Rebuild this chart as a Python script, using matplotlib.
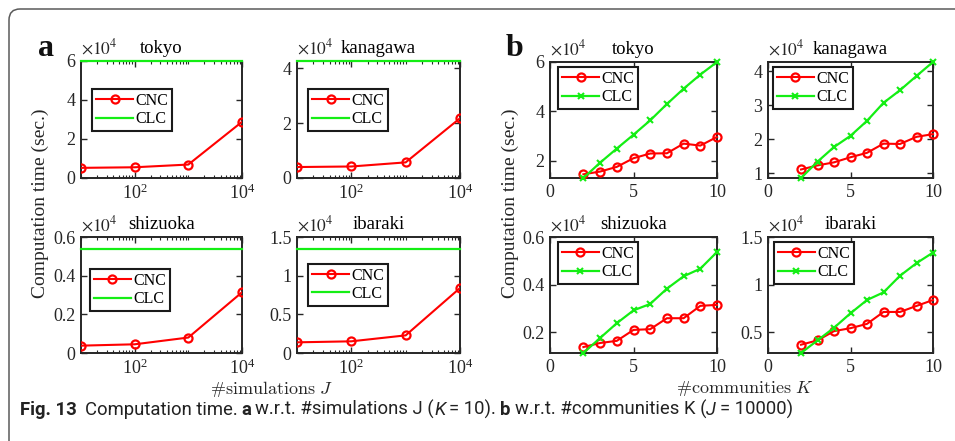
import matplotlib
matplotlib.use("Agg")
import matplotlib.pyplot as plt
from matplotlib.patches import FancyBboxPatch
from matplotlib.ticker import FixedLocator, LogLocator, NullFormatter, FuncFormatter, LogFormatterMathtext

plt.rcParams["font.family"] = ["Liberation Serif", "DejaVu Serif"]
plt.rcParams["mathtext.fontset"] = "stix"

# ---------------------------------------------------------------- data
# computation time in units of 1e4 seconds
regions = ["tokyo", "kanagawa", "shizuoka", "ibaraki"]

# (a) vs number of simulations J, with K = 10
sims_J = [10, 100, 1000, 10000]
cnc_J_tokyo = [0.52, 0.55, 0.69, 2.88]
cnc_J_kanagawa = [0.40, 0.42, 0.57, 2.18]
cnc_J_shizuoka = [0.038, 0.045, 0.080, 0.314]
cnc_J_ibaraki = [0.138, 0.151, 0.228, 0.84]
clc_J_tokyo = [6.0, 6.0, 6.0, 6.0]
clc_J_kanagawa = [4.27, 4.27, 4.27, 4.27]
clc_J_shizuoka = [0.537, 0.537, 0.537, 0.537]
clc_J_ibaraki = [1.34, 1.34, 1.34, 1.34]

# (b) vs number of communities K, with J = 10000
comms_K = [2, 3, 4, 5, 6, 7, 8, 9, 10]
cnc_K_tokyo = [1.46, 1.57, 1.76, 2.11, 2.30, 2.31, 2.70, 2.62, 2.97]
clc_K_tokyo = [1.31, 1.93, 2.50, 3.06, 3.64, 4.30, 4.92, 5.49, 6.0]
cnc_K_kanagawa = [1.11, 1.23, 1.32, 1.47, 1.60, 1.87, 1.86, 2.07, 2.15]
clc_K_kanagawa = [0.86, 1.34, 1.77, 2.10, 2.54, 3.07, 3.44, 3.86, 4.27]
cnc_K_shizuoka = [0.138, 0.155, 0.164, 0.210, 0.213, 0.259, 0.259, 0.311, 0.315]
clc_K_shizuoka = [0.113, 0.176, 0.238, 0.292, 0.319, 0.383, 0.435, 0.467, 0.537]
cnc_K_ibaraki = [0.372, 0.417, 0.514, 0.545, 0.59, 0.715, 0.715, 0.778, 0.84]
clc_K_ibaraki = [0.285, 0.417, 0.549, 0.701, 0.84, 0.92, 1.094, 1.226, 1.337]

yticks_a = {"tokyo": [0, 2, 4, 6], "kanagawa": [0, 2, 4],
            "shizuoka": [0, 0.2, 0.4, 0.6], "ibaraki": [0, 0.5, 1, 1.5]}
ylim_top_a = {"shizuoka": 0.6, "ibaraki": 1.5}
yticks_b = {"tokyo": [2, 4, 6], "kanagawa": [1, 2, 3, 4],
            "shizuoka": [0.2, 0.4, 0.6], "ibaraki": [0.5, 1, 1.5]}
ylim_top_b = {"shizuoka": 0.6, "ibaraki": 1.5}

cnc_J = dict(zip(regions, [cnc_J_tokyo, cnc_J_kanagawa, cnc_J_shizuoka, cnc_J_ibaraki]))
clc_J = dict(zip(regions, [clc_J_tokyo, clc_J_kanagawa, clc_J_shizuoka, clc_J_ibaraki]))
cnc_K = dict(zip(regions, [cnc_K_tokyo, cnc_K_kanagawa, cnc_K_shizuoka, cnc_K_ibaraki]))
clc_K = dict(zip(regions, [clc_K_tokyo, clc_K_kanagawa, clc_K_shizuoka, clc_K_ibaraki]))

# ---------------------------------------------------------------- layout
W, H = 955, 441
fig = plt.figure(figsize=(W / 100, H / 100), dpi=100)
fig.patch.set_facecolor("white")

RED = "#ff0000"
GREEN = "#14ee14"
DARK = "#262626"
TICK_FS = 13


def add_axes_px(left, top, w, h):
    return fig.add_axes([left / W, 1 - (top + h) / H, w / W, h / H])


def style_axes(ax):
    for s in ax.spines.values():
        s.set_linewidth(1.4)
        s.set_color(DARK)
    ax.tick_params(which="both", direction="in", top=True, right=True,
                   colors=DARK, labelsize=TICK_FS, labelcolor="#262626")
    ax.tick_params(which="major", length=4, width=1.0, pad=4)
    ax.tick_params(which="minor", length=2.5, width=0.8)


def decorate(ax, title, top_row):
    ax.set_title(title, fontsize=13.5, pad=6)
    ax.annotate(r"$\times10^{4}$", xy=(0, 1), xycoords="axes fraction",
                xytext=(0, 2.5 if top_row else 1.5), textcoords="offset points",
                ha="left", va="bottom", fontsize=12.5, color=DARK)


def legend(ax, anchor):
    leg = ax.legend(loc="upper left", bbox_to_anchor=anchor, fontsize=11.5,
                    fancybox=False, framealpha=1, edgecolor="#1a1a1a",
                    borderpad=0.25, handlelength=2.3, handletextpad=0.15,
                    labelspacing=0.15, borderaxespad=0)
    leg.get_frame().set_linewidth(1.5)


yfmt = FuncFormatter(lambda v, p: f"{v:g}")

# panel (a)
rects_a = {"tokyo": (81, 61, 161, 117), "kanagawa": (297, 61, 163, 117),
           "shizuoka": (81, 237, 161, 116), "ibaraki": (297, 237, 163, 116)}
anchors_a = {"tokyo": (0.07, 0.76), "kanagawa": (0.07, 0.76),
             "shizuoka": (0.056, 0.725), "ibaraki": (0.07, 0.77)}
for r in regions:
    ax = add_axes_px(*rects_a[r])
    ax.plot(sims_J, cnc_J[r], "-o", color=RED, lw=1.5, ms=5.8, mew=1.6,
            mfc="none", label="CNC", zorder=4)
    ax.plot(sims_J, clc_J[r], "-", color=GREEN, lw=1.6, label="CLC",
            zorder=5, clip_on=False)
    ax.set_xscale("log")
    ax.set_xlim(10, 1e4)
    ax.xaxis.set_major_locator(FixedLocator([1e2, 1e4]))
    ax.xaxis.set_major_formatter(LogFormatterMathtext())
    ax.xaxis.set_minor_locator(LogLocator(base=10, subs=range(1, 10), numticks=20))
    ax.xaxis.set_minor_formatter(NullFormatter())
    ax.set_ylim(0, ylim_top_a.get(r, max(clc_J[r])))
    ax.set_yticks(yticks_a[r])
    ax.yaxis.set_major_formatter(yfmt)
    style_axes(ax)
    decorate(ax, r, rects_a[r][1] < 100)
    legend(ax, anchors_a[r])

# panel (b)
rects_b = {"tokyo": (550, 62, 167, 116), "kanagawa": (768, 62, 165, 116),
           "shizuoka": (550, 237, 167, 116), "ibaraki": (768, 237, 165, 116)}
anchors_b = {"tokyo": (0.05, 0.957), "kanagawa": (0.03, 0.957),
             "shizuoka": (0.048, 0.957), "ibaraki": (0.036, 0.957)}
for r in regions:
    ax = add_axes_px(*rects_b[r])
    ax.plot(comms_K, cnc_K[r], "-o", color=RED, lw=1.5, ms=5.8, mew=1.6,
            mfc="none", label="CNC", zorder=4, clip_on=False)
    ax.plot(comms_K, clc_K[r], "-x", color=GREEN, lw=1.6, ms=4, mew=1.5,
            label="CLC", zorder=5, clip_on=False)
    ax.set_xlim(0, 10)
    ax.set_xticks([0, 5, 10])
    lo = min(min(cnc_K[r]), min(clc_K[r]))
    hi = ylim_top_b.get(r, max(max(cnc_K[r]), max(clc_K[r])))
    ax.set_ylim(lo, hi)
    ax.set_yticks(yticks_b[r])
    ax.yaxis.set_major_formatter(yfmt)
    style_axes(ax)
    decorate(ax, r, rects_b[r][1] < 100)
    legend(ax, anchors_b[r])

# shared axis labels
fig.text(40 / W, 1 - 203 / H, "Computation time (sec.)", rotation=90,
         ha="center", va="center", fontsize=14, color=DARK)
fig.text(510 / W, 1 - 203 / H, "Computation time (sec.)", rotation=90,
         ha="center", va="center", fontsize=14, color=DARK)
fig.text(272 / W, 1 - 389 / H, r"$\#\mathrm{simulations}\ J$", ha="center",
         va="center", fontsize=13, color=DARK, math_fontfamily="cm")
fig.text(745 / W, 1 - 389 / H, r"$\#\mathrm{communities}\ K$", ha="center",
         va="center", fontsize=13, color=DARK, math_fontfamily="cm")

# panel letters
fig.text(38 / W, 1 - 56 / H, "a", fontsize=23, fontweight="bold",
         ha="left", va="baseline", color="#111111")
fig.text(506 / W, 1 - 56 / H, "b", fontsize=23, fontweight="bold",
         ha="left", va="baseline", color="#111111")

# outer frame with rounded top-left corner
frame = FancyBboxPatch((9, -30), 1000, H - 9 + 30,
                       boxstyle="round,pad=0,rounding_size=11",
                       transform=None, fill=False, ec="#5a5a5a", lw=1.1)
fig.add_artist(frame)

# caption, laid out piece by piece
fig.canvas.draw()
renderer = fig.canvas.get_renderer()
cap_fs = 13.3
cap_family = ["Roboto", "DejaVu Sans"]
pieces = [
    ("Fig. 13", "bold", "normal", 8),
    ("Computation time.", "normal", "normal", 4),
    ("a", "bold", "normal", 4),
    ("w.r.t. #simulations J (", "normal", "normal", 0),
    ("K", "normal", "italic", 4),
    ("= 10).", "normal", "normal", 4),
    ("b", "bold", "normal", 4),
    ("w.r.t. #communities K (", "normal", "normal", 0),
    ("J", "normal", "italic", 4),
    ("= 10000)", "normal", "normal", 0),
]
x = 20.0
for txt, weight, style, gap in pieces:
    t = fig.text(x / W, 1 - 415 / H, txt, fontsize=cap_fs, fontweight=weight,
                 fontstyle=style, family=cap_family, ha="left", va="baseline",
                 color="#222222")
    bb = t.get_window_extent(renderer=renderer)
    x += bb.width + gap

fig.savefig("out.png", dpi=100, facecolor="white")
